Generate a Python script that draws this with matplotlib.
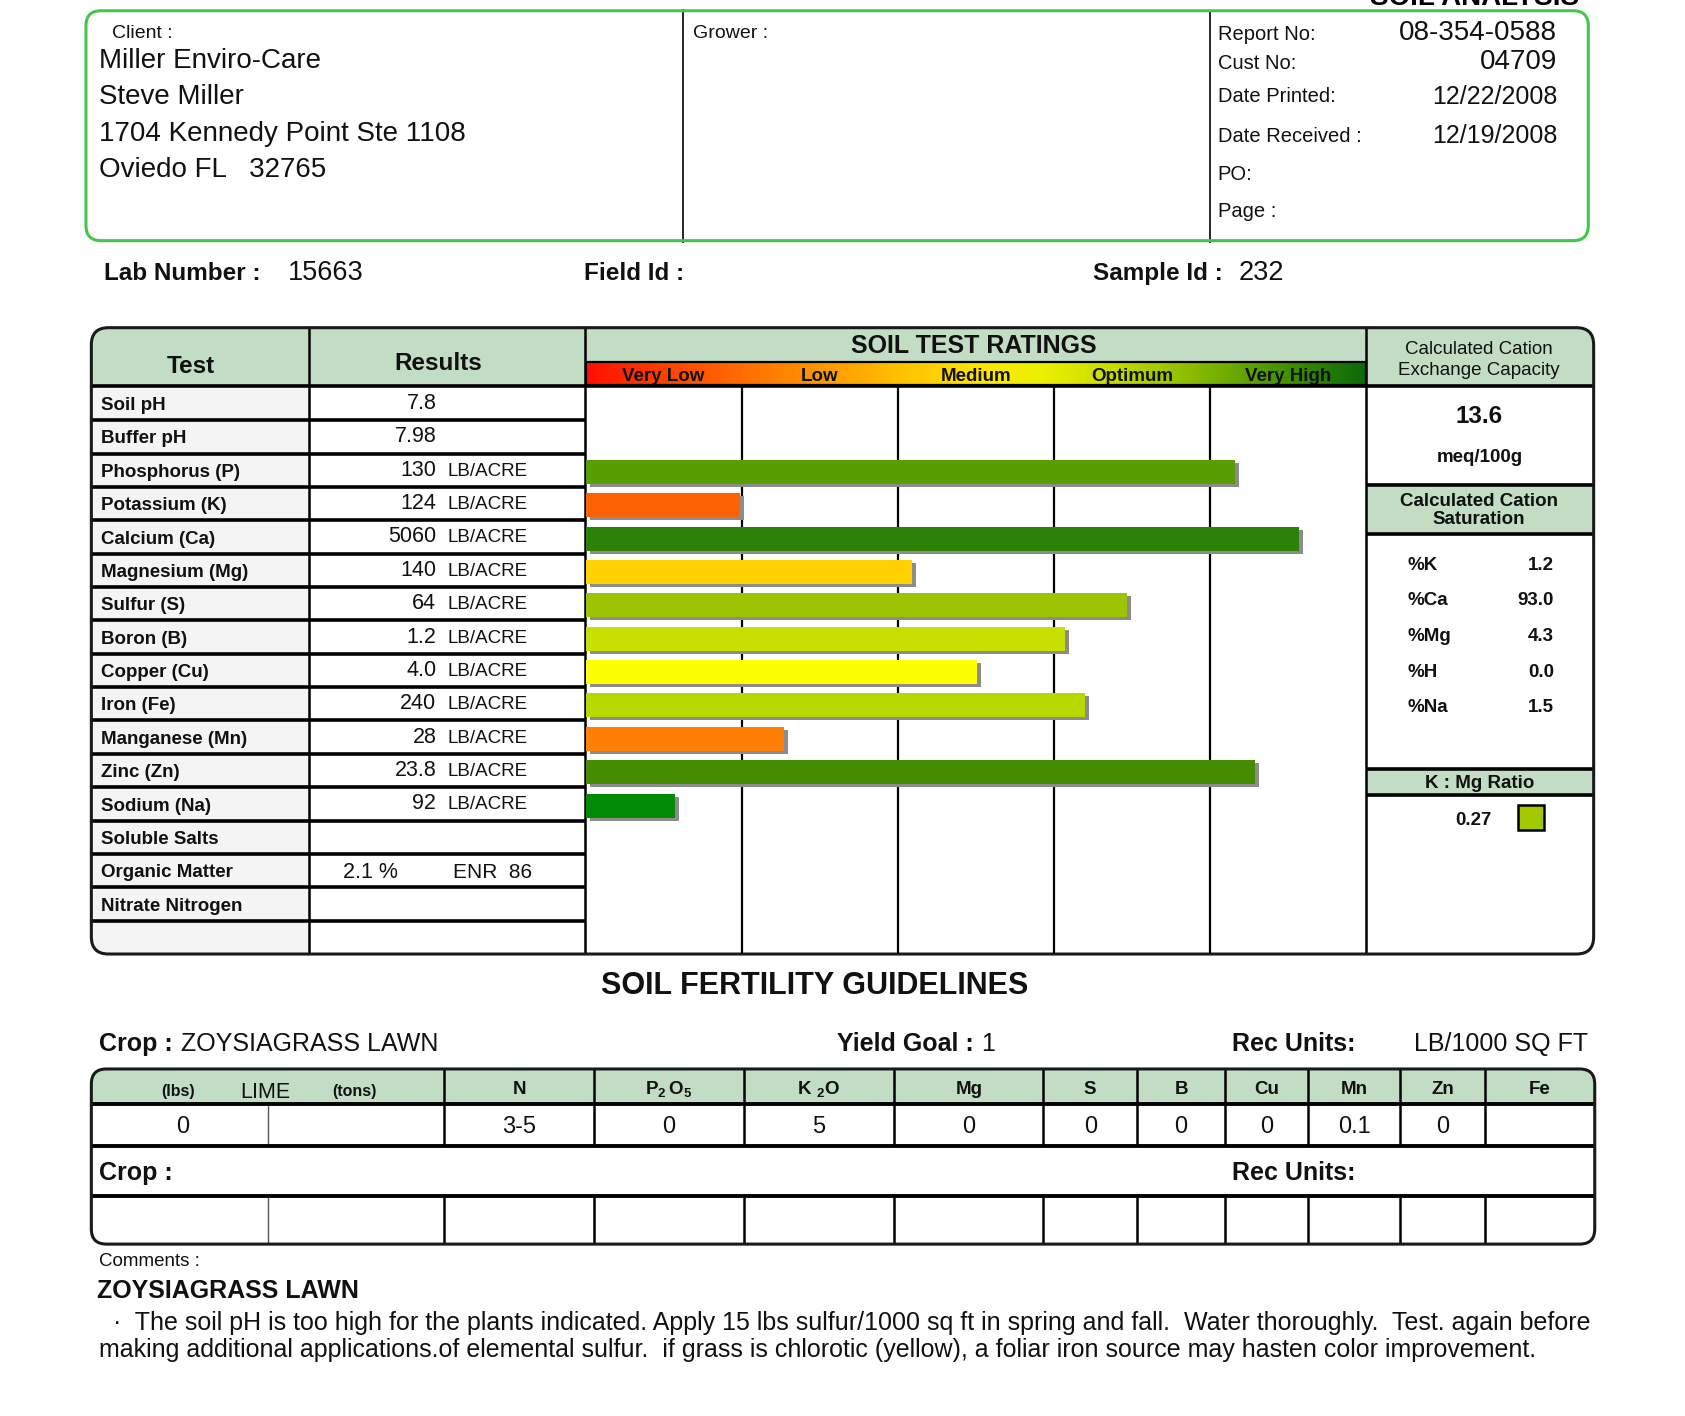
import numpy as np
import matplotlib.pyplot as plt
from matplotlib.patches import FancyBboxPatch, Rectangle
from matplotlib.colors import LinearSegmentedColormap

plt.rcParams['font.family'] = ['Liberation Sans', 'DejaVu Sans']
plt.rcParams['mathtext.fontset'] = 'custom'
plt.rcParams['mathtext.rm'] = 'Liberation Sans'
plt.rcParams['mathtext.bf'] = 'Liberation Sans:bold'

# ---- report data ----
client_lines = ['Miller Enviro-Care', 'Steve Miller', '1704 Kennedy Point Ste 1108', 'Oviedo FL   32765']
report_labels = ['Report No:', 'Cust No:', 'Date Printed:', 'Date Received :', 'PO:', 'Page :']
report_values = ['08-354-0588', '04709', '12/22/2008', '12/19/2008', '', '']
lab_number = '15663'
sample_id = '232'

tests = ['Soil pH', 'Buffer pH', 'Phosphorus (P)', 'Potassium (K)', 'Calcium (Ca)',
         'Magnesium (Mg)', 'Sulfur (S)', 'Boron (B)', 'Copper (Cu)', 'Iron (Fe)',
         'Manganese (Mn)', 'Zinc (Zn)', 'Sodium (Na)', 'Soluble Salts',
         'Organic Matter', 'Nitrate Nitrogen', '']
results = ['7.8', '7.98', '130', '124', '5060', '140', '64', '1.2', '4.0', '240',
           '28', '23.8', '92', '', '', '', '']
units = ['', '', 'LB/ACRE', 'LB/ACRE', 'LB/ACRE', 'LB/ACRE', 'LB/ACRE', 'LB/ACRE',
         'LB/ACRE', 'LB/ACRE', 'LB/ACRE', 'LB/ACRE', 'LB/ACRE', '', '', '', '']
organic_pct = '2.1 %'
organic_enr = 'ENR  86'

# rating bars: 0-5 scale (Very Low .. Very High)
bar_tests = ['Phosphorus (P)', 'Potassium (K)', 'Calcium (Ca)', 'Magnesium (Mg)',
             'Sulfur (S)', 'Boron (B)', 'Copper (Cu)', 'Iron (Fe)',
             'Manganese (Mn)', 'Zinc (Zn)', 'Sodium (Na)']
bar_scores = [4.16, 0.99, 4.57, 2.09, 3.47, 3.07, 2.51, 3.20, 1.27, 4.29, 0.57]
bar_colors = ['#589e02', '#ff6205', '#2b8207', '#ffd200', '#9cc402', '#c8e000',
              '#ffff00', '#b8d800', '#ff8005', '#468c02', '#008a05']
rating_levels = ['Very Low', 'Low', 'Medium', 'Optimum', 'Very High']

cec_value = '13.6'
sat_labels = ['%K', '%Ca', '%Mg', '%H', '%Na']
sat_values = ['1.2', '93.0', '4.3', '0.0', '1.5']
k_mg_ratio = '0.27'

crop = 'ZOYSIAGRASS LAWN'
yield_goal = '1'
rec_units = 'LB/1000 SQ FT'
guide_cols = ['N', r'$\mathbf{P_2\,O_5}$', r'$\mathbf{K\ {}_2O}$', 'Mg', 'S', 'B', 'Cu', 'Mn', 'Zn', 'Fe']
guide_vals = ['3-5', '0', '5', '0', '0', '0', '0', '0.1', '0', '']
lime_lbs = '0'
comment_lines = ['  \u00b7  The soil pH is too high for the plants indicated. Apply 15 lbs sulfur/1000 sq ft in spring and fall.  Water thoroughly.  Test. again before',
                 'making additional applications.of elemental sulfur.  if grass is chlorotic (yellow), a foliar iron source may hasten color improvement.']

# ---- page layout (units: page pixels) ----
W, H = 1568, 1318
GREEN = '#c3ddc5'
fig = plt.figure(figsize=(16.85, 14.16), dpi=100)
ax = fig.add_axes([0, 0, 1, 1])
ax.set_xlim(0, W)
ax.set_ylim(H, 0)
ax.axis('off')


def txt(x, y, s, size=14, bold=False, ha='left', **kw):
    ax.text(x, y + 2, s, fontsize=size, fontweight='bold' if bold else 'normal',
            ha=ha, va='center', color='#111111', **kw)


def hl(y, x0, x1, lw=2.4):
    ax.plot([x0, x1], [y, y], color='black', lw=lw, solid_capstyle='butt', zorder=4)


def vl(x, y0, y1, lw=1.6, color='black'):
    ax.plot([x, x], [y0, y1], color=color, lw=lw, solid_capstyle='butt', zorder=4)


# header box
ax.add_patch(FancyBboxPatch((80, 10), 1398, 214, boxstyle='round,pad=0,rounding_size=14',
                            fc='none', ec='#41c84a', lw=2.2, zorder=5))
vl(636, 8, 226, lw=1.2)
vl(1126, 10, 226, lw=1.2)
txt(104, 29, 'Client :', 14)
for i, s in enumerate(client_lines):
    txt(92, 55 + i * 33.7, s, 20)
txt(645, 29, 'Grower :', 14)
lab_y = [30, 57, 88, 125, 160, 195]
for lbl, val, y in zip(report_labels, report_values, lab_y):
    txt(1133, y, lbl, 14.5)
    if val:
        txt(1449, y + (0 if y > 60 else -1), val, 20 if y < 60 else 18, ha='right')
ax.text(1372, 10, 'SOIL ANALYSIS', fontsize=20, fontweight='bold', ha='center', va='bottom')

txt(97, 253, 'Lab Number :', 17.5, True)
txt(268, 252, lab_number, 19.5)
txt(543, 253, 'Field Id :', 17.5, True)
txt(1017, 253, 'Sample Id :', 17.5, True)
txt(1153, 252, sample_id, 19.5)

# main table frame
T0, T1 = 305, 888
HB = 358
RT = 360
pitch = (888 - RT) / len(tests)
frame = FancyBboxPatch((85, T0), 1398, T1 - T0, boxstyle='round,pad=0,rounding_size=16',
                       fc='none', ec='#1a1a1a', lw=2.2, zorder=6)
ax.add_patch(frame)
fills = [Rectangle((85, T0), 1398, HB - T0, fc=GREEN, ec='none', zorder=1),
         Rectangle((85, RT), 203, T1 - RT, fc='#f4f4f4', ec='none', zorder=1),
         Rectangle((1271, 451), 212, 46, fc=GREEN, ec='none', zorder=1),
         Rectangle((1271, 716), 212, 24, fc=GREEN, ec='none', zorder=1)]
for p in fills:
    ax.add_patch(p)
    p.set_clip_path(frame)

# rating gradient strip
cmap = LinearSegmentedColormap.from_list('rating', [
    (0.0, '#ff1000'), (0.12, '#ff4a00'), (0.25, '#ff8200'), (0.4, '#ffc000'),
    (0.5, '#ffe400'), (0.58, '#eef000'), (0.68, '#c4dc00'), (0.8, '#7cb400'),
    (0.9, '#3f9000'), (1.0, '#0a6a0a')])
ax.imshow(np.linspace(0, 1, 256)[None, :], extent=(545, 1271, 358, 337), aspect='auto',
          cmap=cmap, zorder=2)
ax.add_patch(Rectangle((545, 337), 726, 21, fc='none', ec='black', lw=1.6, zorder=4))
txt(906, 320, 'SOIL TEST RATINGS', 18, True, ha='center')
for i, lvl in enumerate(rating_levels):
    txt(545 + (i + 0.5) * 145.2, 348, lvl, 13.5, True, ha='center', zorder=3)

txt(178, 339, 'Test', 17.5, True, ha='center')
txt(408, 336, 'Results', 17.5, True, ha='center')
txt(1376, 333, 'Calculated Cation\nExchange Capacity', 13.5, ha='center', linespacing=1.25)

hl(HB + 1, 85, 1483, lw=2.6)
vl(288, T0, T1, lw=1.8)
vl(544, T0, T1, lw=1.8)
vl(1271, T0, T1, lw=1.8)
for i in range(1, len(tests)):
    hl(RT + i * pitch, 85, 544, lw=2.6)

for i, (t, r, u) in enumerate(zip(tests, results, units)):
    yc = RT + (i + 0.5) * pitch
    txt(94, yc, t, 13.5, True)
    if r:
        txt(406, yc - 2, r, 15.5, ha='right')
    if u:
        txt(416, yc - 1, u, 13.5)
oi = tests.index('Organic Matter')
txt(319, RT + (oi + 0.5) * pitch, organic_pct, 15.5)
txt(422, RT + (oi + 0.5) * pitch, organic_enr, 15)

# rating bars
bax = fig.add_axes([545 / W, 1 - T1 / H, 726 / W, (T1 - RT) / H])
bax.set_xlim(0, 5)
bax.set_ylim(len(tests), 0)
bax.axis('off')
bax.patch.set_alpha(0)
bax.vlines([1, 2, 3, 4], 0, len(tests), color='black', lw=1.6, zorder=1)
rows = np.array([tests.index(t) for t in bar_tests]) + 0.55
bax.barh(rows + 0.09, bar_scores, left=0.025, height=0.72, color='#8c8c8c', zorder=2)
bax.barh(rows, bar_scores, height=0.72, color=bar_colors, zorder=3)

# right panel
txt(1376, 386, cec_value, 17.5, True, ha='center')
txt(1377, 424, 'meq/100g', 13.5, True, ha='center')
hl(451, 1271, 1483, lw=2.6)
txt(1376, 473, 'Calculated Cation\nSaturation', 13.5, True, ha='center', linespacing=1.1)
hl(497, 1271, 1483, lw=2.6)
for i, (l, v) in enumerate(zip(sat_labels, sat_values)):
    y = 524 + i * 33.2
    txt(1310, y, l, 13.5, True)
    txt(1446, y, v, 13.5, True, ha='right')
hl(716, 1271, 1483, lw=2.6)
txt(1377, 727, 'K : Mg Ratio', 13.5, True, ha='center')
hl(740, 1271, 1483, lw=2.6)
txt(1388, 762, k_mg_ratio, 13.5, True, ha='right')
ax.add_patch(Rectangle((1413, 749), 24, 24, fc='#a2c800', ec='black', lw=1.8, zorder=4))

# fertility guidelines
txt(758, 916, 'SOIL FERTILITY GUIDELINES', 22, True, ha='center')
txt(92, 970, 'Crop :', 18, True)
txt(168, 970, crop, 18)
txt(779, 970, 'Yield Goal :', 18, True)
txt(913, 970, yield_goal, 18)
txt(1146, 970, 'Rec Units:', 18, True)
txt(1316, 970, rec_units, 18)

G0, G1 = 995, 1158
gframe = FancyBboxPatch((85, G0), 1399, G1 - G0, boxstyle='round,pad=0,rounding_size=14',
                        fc='none', ec='#1a1a1a', lw=2.2, zorder=6)
ax.add_patch(gframe)
gfill = Rectangle((85, G0), 1399, 33, fc=GREEN, ec='none', zorder=1)
ax.add_patch(gfill)
gfill.set_clip_path(gframe)
col_x = [413, 553, 692, 832, 971, 1058, 1140, 1217, 1303, 1382, 1484]
for x in col_x[:-1]:
    vl(x, G0, 1067, lw=1.8)
    vl(x, 1113, G1, lw=1.8)
vl(249, 1028, 1067, lw=1.0, color='#555555')
vl(249, 1113, G1, lw=1.0, color='#555555')
for y in (1028, 1067, 1113):
    hl(y, 85, 1484, lw=2.8)
txt(166, 1014, '(lbs)', 11.5, True, ha='center')
txt(247, 1015, 'LIME', 15.5, ha='center')
txt(330, 1014, '(tons)', 11.5, True, ha='center')
txt(170, 1047, lime_lbs, 17, ha='center')
for x0, x1, c, v in zip(col_x[:-1], col_x[1:], guide_cols, guide_vals):
    xc = (x0 + x1) / 2
    txt(xc, 1012, c, 13.5, True, ha='center')
    if v:
        txt(xc, 1047, v, 17, ha='center')
txt(92, 1090, 'Crop :', 18, True)
txt(1146, 1090, 'Rec Units:', 18, True)

txt(92, 1172, 'Comments :', 13.5)
txt(90, 1200, crop, 18, True)
txt(92, 1229, comment_lines[0], 18)
txt(92, 1255, comment_lines[1], 18)

fig.savefig('out.png', dpi=100)
